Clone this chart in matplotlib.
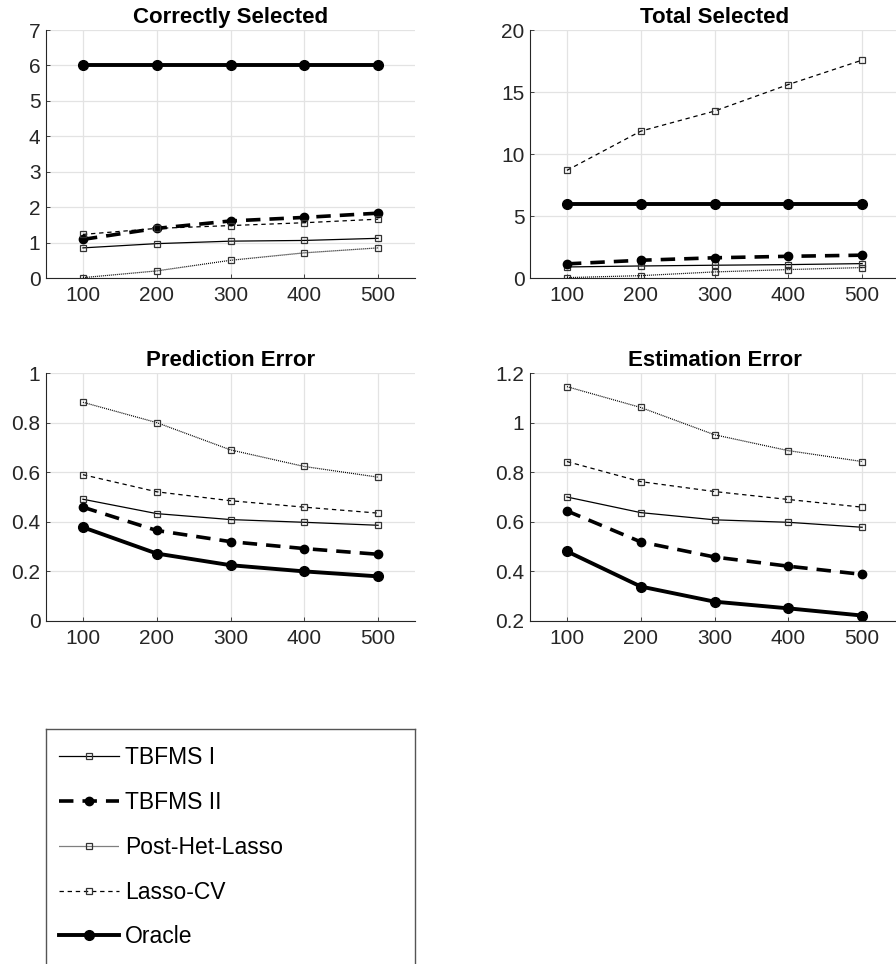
import matplotlib
matplotlib.use("Agg")
import matplotlib.pyplot as plt
from matplotlib.ticker import FuncFormatter

plt.rcParams["font.family"] = ["Liberation Sans", "DejaVu Sans"]

# sample sizes
n_values = [100, 200, 300, 400, 500]
methods = ["TBFMS I", "TBFMS II", "Post-Het-Lasso", "Lasso-CV", "Oracle"]

# Correctly Selected
correct_tbfms1 = [0.85, 0.97, 1.04, 1.06, 1.12]
correct_tbfms2 = [1.09, 1.40, 1.61, 1.71, 1.83]
correct_posthet = [0.01, 0.20, 0.50, 0.71, 0.85]
correct_lassocv = [1.23, 1.40, 1.48, 1.56, 1.66]
correct_oracle = [6, 6, 6, 6, 6]

# Total Selected
total_tbfms1 = [0.89, 0.97, 1.03, 1.08, 1.16]
total_tbfms2 = [1.14, 1.43, 1.63, 1.75, 1.84]
total_posthet = [0.03, 0.19, 0.49, 0.68, 0.84]
total_lassocv = [8.68, 11.84, 13.46, 15.60, 17.57]
total_oracle = [6, 6, 6, 6, 6]

# Prediction Error
pred_tbfms1 = [0.491, 0.433, 0.409, 0.398, 0.386]
pred_tbfms2 = [0.459, 0.365, 0.320, 0.292, 0.269]
pred_posthet = [0.882, 0.800, 0.690, 0.623, 0.580]
pred_lassocv = [0.590, 0.521, 0.485, 0.459, 0.435]
pred_oracle = [0.378, 0.272, 0.225, 0.200, 0.180]

# Estimation Error
est_tbfms1 = [0.700, 0.637, 0.608, 0.598, 0.578]
est_tbfms2 = [0.644, 0.519, 0.458, 0.421, 0.388]
est_posthet = [1.145, 1.061, 0.951, 0.887, 0.843]
est_lassocv = [0.843, 0.762, 0.722, 0.690, 0.659]
est_oracle = [0.481, 0.339, 0.278, 0.251, 0.222]

# line style for each method
styles = {
    "TBFMS I": dict(ls="-", lw=0.9, marker="s", ms=5, mfc="none", mec="#333333", mew=0.9),
    "TBFMS II": dict(ls=(0, (4, 2.5)), lw=2.6, marker="o", ms=6, mfc="black", mec="black"),
    "Post-Het-Lasso": dict(ls=(0, (0.8, 0.8)), lw=0.9, marker="s", ms=5, mfc="none", mec="#333333", mew=0.9),
    "Lasso-CV": dict(ls=(0, (3.5, 3)), lw=0.9, marker="s", ms=5, mfc="none", mec="#333333", mew=0.9),
    "Oracle": dict(ls="-", lw=2.8, marker="o", ms=7, mfc="black", mec="black"),
}

W, H = 896, 964


def frac(l, r, t, b):
    return [l / W, 1 - b / H, (r - l) / W, (b - t) / H]


def make_panel(fig, rect, title, series, ylim, yticks):
    ax = fig.add_axes(frac(*rect))
    for name, vals in zip(methods, series):
        ax.plot(n_values, vals, color="black", label=name, **styles[name])
    ax.set_xlim(50, 550)
    ax.set_ylim(*ylim)
    ax.set_xticks(n_values)
    ax.set_yticks(yticks)
    ax.yaxis.set_major_formatter(FuncFormatter(lambda v, p: "%g" % round(v, 6)))
    ax.grid(True, color="#e3e3e3", lw=0.9)
    ax.set_axisbelow(True)
    for s in ["top", "right"]:
        ax.spines[s].set_visible(False)
    for s in ["left", "bottom"]:
        ax.spines[s].set_color("#262626")
        ax.spines[s].set_linewidth(0.8)
    ax.tick_params(direction="in", length=3, width=0.6, colors="#262626",
                   labelsize=15, pad=6)
    ax.tick_params(axis="y", pad=4)
    ax.set_title(title, fontsize=16, fontweight="bold", pad=5)
    return ax


fig = plt.figure(figsize=(W / 100, H / 100), dpi=100)

ax1 = make_panel(fig, (46, 415, 30, 278), "Correctly Selected",
                 [correct_tbfms1, correct_tbfms2, correct_posthet, correct_lassocv, correct_oracle],
                 (0, 7), range(0, 8))
make_panel(fig, (530, 899, 30, 278), "Total Selected",
           [total_tbfms1, total_tbfms2, total_posthet, total_lassocv, total_oracle],
           (0, 20), range(0, 21, 5))
make_panel(fig, (46, 415, 373, 621), "Prediction Error",
           [pred_tbfms1, pred_tbfms2, pred_posthet, pred_lassocv, pred_oracle],
           (0, 1), [0, 0.2, 0.4, 0.6, 0.8, 1])
make_panel(fig, (530, 899, 373, 621), "Estimation Error",
           [est_tbfms1, est_tbfms2, est_posthet, est_lassocv, est_oracle],
           (0.2, 1.2), [0.2, 0.4, 0.6, 0.8, 1.0, 1.2])

# legend box
lax = fig.add_axes(frac(46, 415, 729, 968))
lax.set_xticks([])
lax.set_yticks([])
for s in lax.spines.values():
    s.set_color("#555555")
    s.set_linewidth(1.0)
handles, labels = ax1.get_legend_handles_labels()
lax.legend(handles, labels, loc="upper left", bbox_to_anchor=(-0.022, 1.014),
           frameon=False, fontsize=16.5, handlelength=2.65, handletextpad=0.25,
           labelspacing=0.95, borderaxespad=0.5)

fig.savefig("out.png", dpi=100)
